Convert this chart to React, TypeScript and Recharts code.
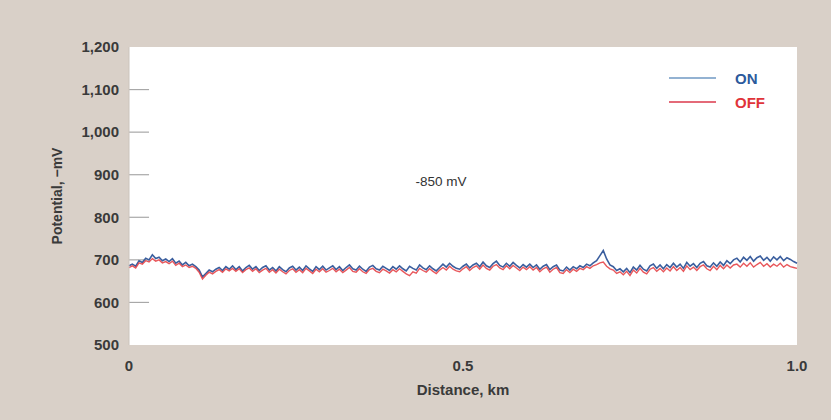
import {
  CartesianGrid,
  Line,
  LineChart,
  ReferenceDot,
  ReferenceLine,
  XAxis,
  YAxis,
} from 'recharts'

// distance along the line, km
const distance = [
  0, 0.005, 0.01, 0.015, 0.02, 0.025, 0.03, 0.035, 0.04, 0.045, 0.05, 0.055, 0.06, 0.065, 0.07, 0.075, 0.08, 0.085, 0.09, 0.095,
  0.1, 0.105, 0.11, 0.115, 0.12, 0.125, 0.13, 0.135, 0.14, 0.145, 0.15, 0.155, 0.16, 0.165, 0.17, 0.175, 0.18, 0.185, 0.19, 0.195,
  0.2, 0.205, 0.21, 0.215, 0.22, 0.225, 0.23, 0.235, 0.24, 0.245, 0.25, 0.255, 0.26, 0.265, 0.27, 0.275, 0.28, 0.285, 0.29, 0.295,
  0.3, 0.305, 0.31, 0.315, 0.32, 0.325, 0.33, 0.335, 0.34, 0.345, 0.35, 0.355, 0.36, 0.365, 0.37, 0.375, 0.38, 0.385, 0.39, 0.395,
  0.4, 0.405, 0.41, 0.415, 0.42, 0.425, 0.43, 0.435, 0.44, 0.445, 0.45, 0.455, 0.46, 0.465, 0.47, 0.475, 0.48, 0.485, 0.49, 0.495,
  0.5, 0.505, 0.51, 0.515, 0.52, 0.525, 0.53, 0.535, 0.54, 0.545, 0.55, 0.555, 0.56, 0.565, 0.57, 0.575, 0.58, 0.585, 0.59, 0.595,
  0.6, 0.605, 0.61, 0.615, 0.62, 0.625, 0.63, 0.635, 0.64, 0.645, 0.65, 0.655, 0.66, 0.665, 0.67, 0.675, 0.68, 0.685, 0.69, 0.695,
  0.7, 0.705, 0.71, 0.715, 0.72, 0.725, 0.73, 0.735, 0.74, 0.745, 0.75, 0.755, 0.76, 0.765, 0.77, 0.775, 0.78, 0.785, 0.79, 0.795,
  0.8, 0.805, 0.81, 0.815, 0.82, 0.825, 0.83, 0.835, 0.84, 0.845, 0.85, 0.855, 0.86, 0.865, 0.87, 0.875, 0.88, 0.885, 0.89, 0.895,
  0.9, 0.905, 0.91, 0.915, 0.92, 0.925, 0.93, 0.935, 0.94, 0.945, 0.95, 0.955, 0.96, 0.965, 0.97, 0.975, 0.98, 0.985, 0.99, 0.995,
  1,
]

// potential with current ON, -mV
const onValues = [
  686, 690, 685, 698, 694, 704, 700, 712, 703, 706, 698, 702, 696, 703, 692, 697, 688, 694, 686, 690,
  684, 676, 660, 668, 676, 672, 678, 682, 675, 684, 678, 686, 677, 684, 674, 682, 687, 678, 684, 675,
  682, 686, 676, 682, 674, 684, 677, 672, 681, 685, 676, 683, 675, 686, 679, 673, 684, 677, 685, 676,
  681, 686, 677, 684, 675, 682, 688, 679, 676, 685, 678, 673, 683, 687, 679, 676, 685, 680, 675, 684,
  678, 686, 679, 674, 685, 680, 676, 688, 681, 677, 686, 679, 674, 682, 690, 683, 692, 685, 680, 678,
  685, 690, 681, 688, 692, 684, 695, 686, 682, 691, 697, 687, 683, 692, 685, 694, 687, 681, 689, 683,
  690, 682, 688, 678, 685, 689, 677, 684, 688, 676, 674, 683, 676, 684, 679, 686, 682, 690, 686, 693,
  698, 710, 722, 702, 688, 684, 675, 679, 672, 680, 670, 683, 676, 687, 678, 674, 686, 690, 680, 688,
  679, 689, 682, 692, 683, 690, 680, 694, 685, 691, 682, 692, 696, 686, 683, 693, 685, 695, 687, 698,
  691, 700, 704, 695, 706, 699, 708, 697, 705, 709, 699, 706, 697, 707, 700, 708, 698, 705, 701, 696,
  692,
]

// potential with current OFF (instant-off), -mV
const offValues = [
  682, 686, 681, 693, 690, 698, 695, 703, 697, 700, 693, 696, 691, 697, 687, 692, 684, 688, 682, 685,
  680, 671, 655, 664, 671, 667, 673, 677, 671, 679, 674, 680, 673, 679, 670, 677, 681, 673, 679, 670,
  676, 680, 671, 677, 669, 678, 672, 667, 675, 679, 671, 677, 670, 680, 674, 668, 678, 672, 679, 671,
  675, 680, 672, 678, 670, 676, 682, 673, 671, 679, 672, 668, 677, 680, 673, 670, 678, 674, 669, 677,
  672, 679, 673, 667, 663, 672, 669, 680, 675, 671, 679, 673, 668, 676, 682, 676, 685, 678, 674, 672,
  679, 684, 675, 682, 686, 678, 688, 680, 676, 685, 689, 681, 677, 686, 679, 687, 681, 675, 683, 677,
  684, 676, 682, 672, 679, 683, 671, 678, 682, 670, 668, 677, 670, 678, 673, 680, 677, 684, 680, 686,
  689, 693, 695, 685, 679, 676, 668, 672, 665, 673, 663, 676, 669, 680, 671, 667, 678, 682, 673, 680,
  672, 681, 674, 684, 675, 682, 673, 686, 677, 683, 675, 684, 688, 679, 675, 685, 677, 687, 679, 688,
  681, 688, 690, 683, 692, 685, 693, 683, 689, 694, 685, 691, 683, 690, 685, 692, 683, 689, 684, 682,
  680,
]

const yTicks = [500, 600, 700, 800, 900, 1000, 1100, 1200]
const innerTicks = [600, 700, 800, 900, 1000, 1100]
const xTicks = [0, 0.5, 1]
const xTickLabels = ['0', '0.5', '1.0']

const data = distance.map((d, i) => ({ d, on: onValues[i], off: offValues[i] }))

const FONT = 'Arial, "Liberation Sans", Helvetica, sans-serif'
const ON_COLOR = '#3a5e9e'
const OFF_COLOR = '#e43a3e'
const TEXT = { fontSize: 15, fontWeight: 700, fill: '#3a3a3a', fontFamily: FONT }

const legendRows = [
  { name: 'ON', line: '#93b2d2', text: '#2c5a9c' },
  { name: 'OFF', line: '#e46a78', text: '#e0343a' },
]

function ChartLegend() {
  return (
    <div style={{ position: 'absolute', left: 669, top: 66, fontFamily: FONT }}>
      {legendRows.map((r) => (
        <div key={r.name} style={{ display: 'flex', alignItems: 'center', height: 24 }}>
          <div style={{ width: 47, height: 2, background: r.line, marginRight: 19 }} />
          <span style={{ color: r.text, fontWeight: 700, fontSize: 15 }}>{r.name}</span>
        </div>
      ))}
    </div>
  )
}

export default function App() {
  return (
    <div
      style={{
        position: 'absolute',
        left: 0,
        top: 0,
        width: 831,
        height: 420,
        background: '#d9d0c8',
      }}
    >
      <LineChart width={831} height={420} data={data} margin={{ top: 47, right: 34, bottom: 0, left: 0 }}>
        <CartesianGrid fill="#ffffff" stroke="none" />
        <XAxis
          dataKey="d"
          type="number"
          domain={[0, 1]}
          ticks={xTicks}
          tickFormatter={(v) => xTickLabels[xTicks.indexOf(v)]}
          axisLine={false}
          tickLine={false}
          tickSize={0}
          tickMargin={15}
          height={75}
          tick={TEXT}
          label={{ value: 'Distance, km', position: 'insideBottom', offset: 25, style: TEXT }}
        />
        <YAxis
          domain={[500, 1200]}
          ticks={yTicks}
          tickFormatter={(v) => v.toLocaleString('en-US')}
          axisLine={{ stroke: '#cbc4bd' }}
          tickLine={false}
          tickSize={0}
          tickMargin={10}
          width={129}
          tick={TEXT}
          label={{
            value: 'Potential, \u2212mV',
            angle: -90,
            position: 'insideLeft',
            offset: 57,
            style: { ...TEXT, textAnchor: 'middle', fontSize: 14 },
          }}
        />
        {innerTicks.map((t) => (
          <ReferenceLine
            key={t}
            segment={[
              { x: 0, y: t },
              { x: 0.03, y: t },
            ]}
            stroke="#a8a8a8"
            strokeWidth={1.2}
          />
        ))}
        <ReferenceDot
          x={0.467}
          y={885}
          r={0}
          fill="none"
          stroke="none"
          label={{
            value: '-850 mV',
            position: 'center',
            style: { fontSize: 13.5, fill: '#333', fontFamily: FONT },
          }}
        />
        <Line
          type="linear"
          dataKey="on"
          stroke={ON_COLOR}
          strokeWidth={1.6}
          dot={false}
          isAnimationActive={false}
        />
        <Line
          type="linear"
          dataKey="off"
          stroke={OFF_COLOR}
          strokeWidth={1.4}
          strokeOpacity={0.85}
          dot={false}
          isAnimationActive={false}
        />
      </LineChart>
      <ChartLegend />
    </div>
  )
}
